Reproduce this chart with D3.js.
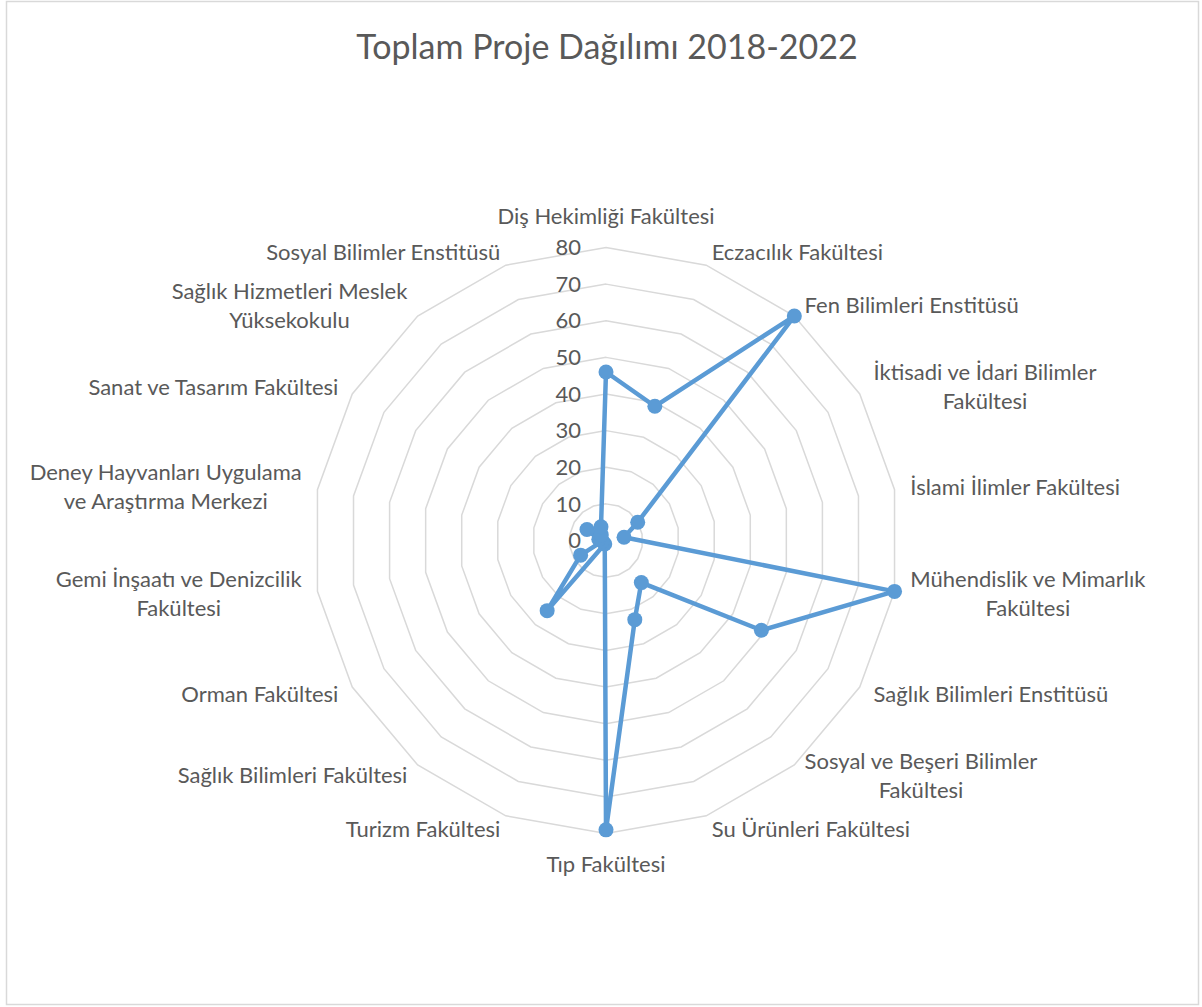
<!DOCTYPE html>
<html>
<head>
<meta charset="utf-8">
<title>Toplam Proje Dağılımı 2018-2022</title>
<script src="https://cdn.jsdelivr.net/npm/d3@7"></script>
<style>
  body { margin: 0; background: #fff; }
  text { font-family: Lato, "Open Sans", sans-serif; fill: #595959; }
</style>
</head>
<body>
<script>
// faculty names, "\n" where the chart wraps the label
var categories = [
  "Diş Hekimliği Fakültesi",
  "Eczacılık Fakültesi",
  "Fen Bilimleri Enstitüsü",
  "İktisadi ve İdari Bilimler\nFakültesi",
  "İslami İlimler Fakültesi",
  "Mühendislik ve Mimarlık\nFakültesi",
  "Sağlık Bilimleri Enstitüsü",
  "Sosyal ve Beşeri Bilimler\nFakültesi",
  "Su Ürünleri Fakültesi",
  "Tıp Fakültesi",
  "Turizm Fakültesi",
  "Sağlık Bilimleri Fakültesi",
  "Orman Fakültesi",
  "Gemi İnşaatı ve Denizcilik\nFakültesi",
  "Deney Hayvanları Uygulama\nve Araştırma Merkezi",
  "Sanat ve Tasarım Fakültesi",
  "Sağlık Hizmetleri Meslek\nYüksekokulu",
  "Sosyal Bilimler Enstitüsü"
];
// total projects 2018-2022
var projects = [46, 39, 80, 10, 5, 80, 49, 15, 23, 79, 1, 25, 8, 1, 2, 6, 2, 4];
var ticks = [0, 10, 20, 30, 40, 50, 60, 70, 80];

var width = 1202, height = 1007;
var cx = 606, cy = 540.5, R = 293;
var n = categories.length;

var svg = d3.select("body").append("svg")
    .attr("width", width)
    .attr("height", height);

// chart area border
svg.append("rect")
    .attr("x", 6.5).attr("y", 1.5)
    .attr("width", 1192).attr("height", 1003)
    .attr("fill", "#fff")
    .attr("stroke", "#d9d9d9")
    .attr("stroke-width", 1.5);

svg.append("text")
    .attr("x", 607).attr("y", 59)
    .attr("text-anchor", "middle")
    .style("font-size", "34px")
    .text("Toplam Proje Dağılımı 2018-2022");

var r = d3.scaleLinear().domain([0, 80]).range([0, R]);
var angle = d3.scaleLinear().domain([0, n]).range([0, 2 * Math.PI]);

var g = svg.append("g")
    .attr("transform", "translate(" + cx + "," + cy + ")");

// gridline rings
var idx = d3.range(n);
g.append("g").selectAll("path")
    .data(ticks.filter(function(t) { return t > 0; }))
    .join("path")
    .attr("d", function(t) {
      return d3.lineRadial()
        .angle(function(i) { return angle(i); })
        .radius(r(t))
        .curve(d3.curveLinearClosed)(idx);
    })
    .attr("fill", "none")
    .attr("stroke", "#d9d9d9")
    .attr("stroke-width", 1.5);

// value axis labels
g.append("g").selectAll("text")
    .data(ticks)
    .join("text")
    .attr("x", -25)
    .attr("y", function(t) { return -r(t); })
    .attr("dy", "0.35em")
    .attr("text-anchor", "end")
    .style("font-size", "22px")
    .text(function(t) { return t; });

// category labels
g.append("g").selectAll("g")
    .data(categories)
    .join("g")
    .each(function(d, i) {
      var a = angle(i), s = Math.sin(a), c = Math.cos(a);
      var vx = r(80) * s, vy = -r(80) * c;
      var lines = d.split("\n");
      var t = d3.select(this).selectAll("text")
          .data(lines)
          .join("text")
          .attr("text-anchor", "middle")
          .style("font-size", "22px")
          .text(function(l) { return l; });
      var w = d3.max(t.nodes(), function(nd) { return nd.getComputedTextLength(); });
      var lh = 29, x, y;
      if (Math.abs(s) < 0.01) {
        x = vx; y = vy - c * 31;
      } else {
        x = vx + s * 16 + (s > 0 ? w / 2 : -w / 2);
        y = vy - c * 14;
      }
      t.attr("x", x)
        .attr("y", function(l, j) { return y + (j - (lines.length - 1) / 2) * lh; })
        .attr("dy", "0.35em");
    });

// the series
var pts = projects.map(function(v, i) { return [angle(i), r(v)]; });

g.append("path")
    .attr("d", d3.lineRadial().curve(d3.curveLinearClosed)(pts))
    .attr("fill", "none")
    .attr("stroke", "#5b9bd5")
    .attr("stroke-width", 4.5)
    .attr("stroke-linejoin", "round");

g.append("g").selectAll("circle")
    .data(pts)
    .join("circle")
    .attr("cx", function(p) { return d3.pointRadial(p[0], p[1])[0]; })
    .attr("cy", function(p) { return d3.pointRadial(p[0], p[1])[1]; })
    .attr("r", 7.5)
    .attr("fill", "#5b9bd5");
</script>
</body>
</html>
